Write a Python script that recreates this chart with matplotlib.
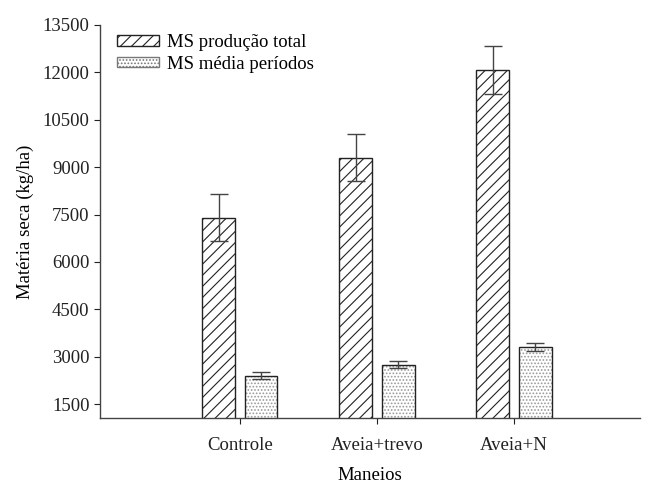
import numpy as np
import matplotlib
matplotlib.use('Agg')
from matplotlib import pyplot as plt
from matplotlib.patches import Patch

# dados
categories = ['Controle', 'Aveia+trevo', 'Aveia+N']
total = [7400, 9300, 12080]
total_err = [750, 740, 750]
media = [2400, 2750, 3300]
media_err = [120, 120, 120]
yticks = [1500, 3000, 4500, 6000, 7500, 9000, 10500, 12000, 13500]

plt.rcParams['font.family'] = ['Liberation Serif', 'DejaVu Serif']
plt.rcParams['hatch.linewidth'] = 0.8

fig = plt.figure(figsize=(6.51, 4.86), dpi=100)
ax = fig.add_axes([0.1536, 0.14, 0.8294, 0.8086])

x = np.arange(len(categories))
w = 0.24
off = 0.155
# barras hachuradas
plt.bar(x - off, total, w, color='white', edgecolor='#222222', hatch='///',
        linewidth=1.0)
# pontos em cinza, contorno preto por cima
plt.bar(x + off, media, w, color='white', edgecolor='#999999', hatch='.....',
        linewidth=0)
plt.bar(x + off, media, w, color='none', edgecolor='#222222', linewidth=1.0)
plt.errorbar(x - off, total, yerr=total_err, fmt='none', ecolor='#444444',
             elinewidth=1.0, capsize=6.5, capthick=1.0)
plt.errorbar(x + off, media, yerr=media_err, fmt='none', ecolor='#444444',
             elinewidth=1.0, capsize=6.5, capthick=1.0)

plt.xlim(-1.02, 2.92)
plt.ylim(1060, 13500)
plt.yticks(yticks, [str(t) for t in yticks])
plt.xticks(x, categories)
plt.tick_params(axis='both', labelsize=13.5, colors='#222222', width=0.8, length=4)
plt.tick_params(axis='x', pad=10)
for s in ['top', 'right']:
    ax.spines[s].set_visible(False)
for s in ['left', 'bottom']:
    ax.spines[s].set_color('#444444')
    ax.spines[s].set_linewidth(1.0)

plt.ylabel('Matéria seca (kg/ha)', fontsize=13.5, labelpad=6)
plt.xlabel('Maneios', fontsize=13.5, labelpad=9)

handles = [Patch(facecolor='white', edgecolor='#222222', hatch='///', linewidth=1.0),
           Patch(facecolor='white', edgecolor='#777777', hatch='.....', linewidth=1.0)]
plt.legend(handles, ['MS produção total', 'MS média períodos'], loc='upper left',
           frameon=False, fontsize=13.5, handlelength=2.25, handleheight=0.5,
           bbox_to_anchor=(0.0, 1.02), labelspacing=0.25, handletextpad=0.45)

plt.savefig('out.png', dpi=100)
